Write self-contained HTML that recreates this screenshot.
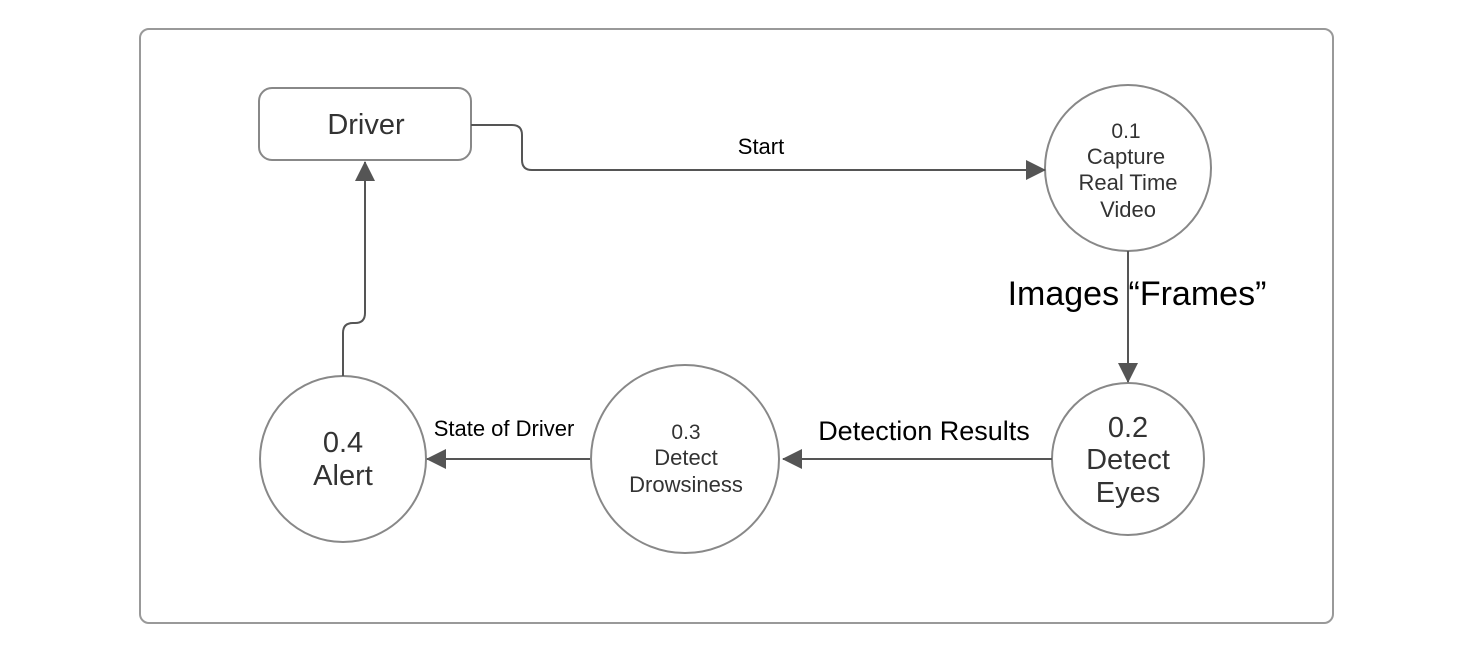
<!DOCTYPE html>
<html><head><meta charset="utf-8"><style>
html,body{margin:0;padding:0;background:#fff;}
svg{display:block;}
text{font-family:"Liberation Sans",sans-serif;}
</style></head><body>
<svg width="1459" height="664" viewBox="0 0 1459 664" xmlns="http://www.w3.org/2000/svg">
<defs>
<marker id="ah2" markerWidth="20" markerHeight="20" refX="19" refY="10" orient="auto" markerUnits="userSpaceOnUse">
<path d="M0,0 L20,10 L0,20 Z" fill="#555"/></marker>
</defs>
<rect x="140" y="29" width="1193" height="594" rx="9" fill="#fff" stroke="#999" stroke-width="2"/>
<rect x="259" y="88" width="212" height="72" rx="13" fill="#fff" stroke="#888" stroke-width="2"/>
<text x="366" y="134" font-size="29" text-anchor="middle" fill="#333">Driver</text>
<g fill="#fff" stroke="#888" stroke-width="2">
<circle cx="1128" cy="168" r="83"/>
<circle cx="1128" cy="459" r="76"/>
<circle cx="685" cy="459" r="94"/>
<circle cx="343" cy="459" r="83"/>
</g>
<g fill="none" stroke="#555" stroke-width="2">
<path d="M471,125 H512 Q522,125 522,135 V160 Q522,170 532,170 H1045" marker-end="url(#ah2)"/>
<path d="M1128,251 V382" marker-end="url(#ah2)"/>
<path d="M1052,459 H783" marker-end="url(#ah2)"/>
<path d="M590,459 H427" marker-end="url(#ah2)"/>
<path d="M343,376 V333 Q343,323 353,323 H355 Q365,323 365,313 V162" marker-end="url(#ah2)"/>
</g>
<g fill="#333" text-anchor="middle">
<text x="1126" y="138" font-size="21">0.1</text>
<text x="1126" y="164" font-size="22">Capture</text>
<text x="1128" y="190" font-size="22">Real Time</text>
<text x="1128" y="217" font-size="22">Video</text>
<text x="1128" y="437" font-size="29">0.2</text>
<text x="1128" y="469" font-size="29">Detect</text>
<text x="1128" y="502" font-size="29">Eyes</text>
<text x="686" y="439" font-size="21">0.3</text>
<text x="686" y="465" font-size="22">Detect</text>
<text x="686" y="492" font-size="22">Drowsiness</text>
<text x="343" y="452" font-size="29">0.4</text>
<text x="343" y="485" font-size="29">Alert</text>
</g>
<g fill="#000" text-anchor="middle">
<text x="761" y="154" font-size="22">Start</text>
<text x="1137" y="305" font-size="34">Images “Frames”</text>
<text x="924" y="440" font-size="27">Detection Results</text>
<text x="504" y="436" font-size="22">State of Driver</text>
</g>
</svg>
</body></html>
